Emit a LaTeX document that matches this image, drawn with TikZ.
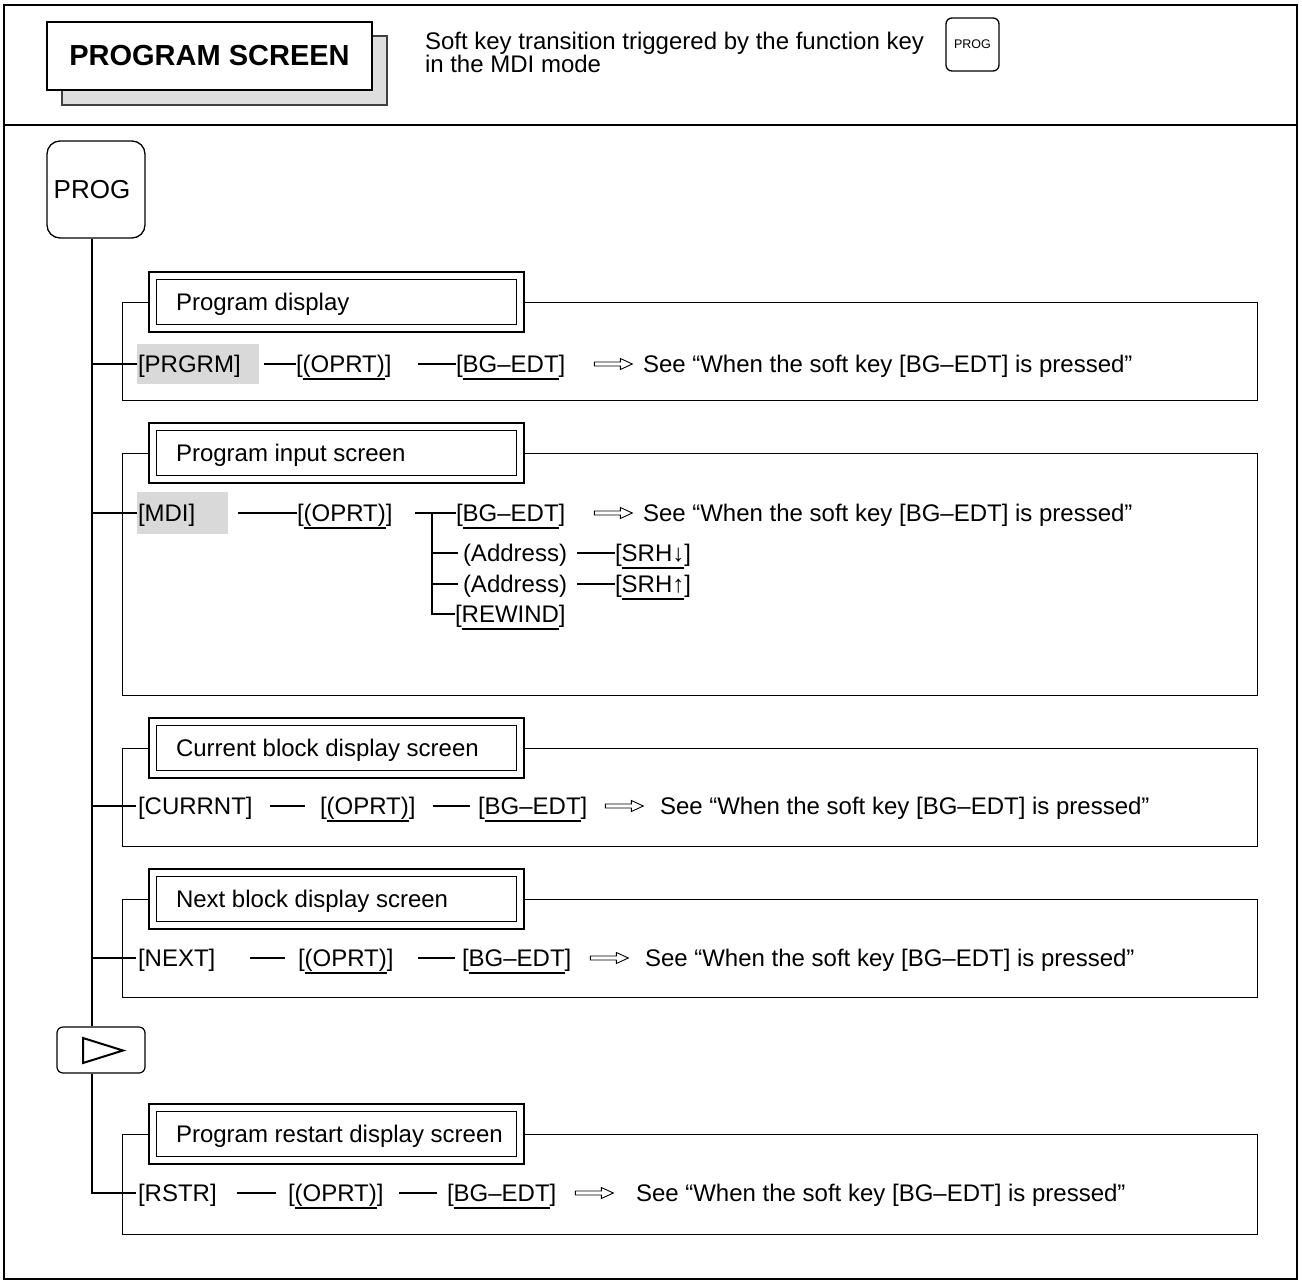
\documentclass[tikz,border=0pt]{standalone}
\usepackage{fontspec}
\setmainfont{Liberation Sans}
\usetikzlibrary{calc}
\definecolor{hlgray}{RGB}{217,217,217}
\definecolor{shadowgray}{RGB}{222,222,222}
\newcommand\kul[1]{\setbox0\hbox{#1}\rlap{\vrule width\wd0 height -5.5pt depth 7.5pt}\box0}
\begin{document}
\begin{tikzpicture}[x=1pt,y=-1pt,
  txt/.style={anchor=west, inner sep=0pt, outer sep=0pt, text height=17.2pt, text depth=0pt, font=\fontsize{24}{28}\selectfont},
  htxt/.style={anchor=base west, inner sep=0pt, outer sep=0pt, font=\fontsize{24}{28}\selectfont},
  lnk/.style={line width=1.2pt},
  panel/.style={draw, line width=1pt},
  ttl/.style={draw, line width=1.8pt, fill=white, minimum width=375pt, minimum height=60pt, anchor=west, inner sep=0pt},
  ttlin/.style={draw, line width=1pt},
  hl/.style={fill=hlgray, inner sep=0pt, anchor=west},
  harrow/.pic={\draw[line width=0.9pt, line join=miter] (0,-2) -- (26,-2) -- (26,-5.5) -- (38,0) -- (26,5.5) -- (26,2) -- (0,2) -- cycle;},
]
\useasboundingbox (0,0) rectangle (1302,1283);
% frame and header
\draw[line width=1.8pt] (4,5) rectangle (1297,1279);
\draw[line width=1.5pt] (4,125) -- (1297,125);
\draw[line width=1.3pt, fill=shadowgray, draw=black!75] (62,36) rectangle (387,105);
\node[draw, line width=1.3pt, fill=white, minimum width=325pt, minimum height=68pt, inner sep=0pt, font=\fontsize{29}{34}\selectfont\bfseries] (title) at (209.5,56) {PROGRAM SCREEN};
\node[htxt] (h1) at (425,49) {Soft key transition triggered by the function key};
\node[htxt] (h2) at (425,72) {in the MDI mode};
\node[draw, line width=1.3pt, rounded corners=6pt, minimum width=53pt, minimum height=53pt, inner sep=0pt, font=\fontsize{12.5}{14}\selectfont] (hk) at (972.5,44.5) {PROG};

% function key and trunk
\node[draw, line width=1.3pt, rounded corners=13pt, minimum width=98pt, minimum height=97pt, inner sep=0pt] (prog) at (96,189.5) {};
\node[inner sep=0pt, font=\fontsize{26}{30}\selectfont] (proglbl) at (92,190) {PROG};
\node[draw, line width=1.2pt, rounded corners=6pt, minimum width=88pt, minimum height=46pt, inner sep=0pt] (nx) at (101,1050) {};
\draw[line width=2pt, line join=miter] (83,1038) -- (123,1050.5) -- (83,1063) -- cycle;
\coordinate (trk) at ([xshift=-4pt]prog.south);
\coordinate (trk2) at ([xshift=-9pt]nx.north);
\coordinate (trk3) at ([xshift=-9pt]nx.south);
\draw[lnk] (trk) -- (trk2);

% panels
\draw[panel] (122,302) rectangle (1257,400);
\draw[panel] (122,453) rectangle (1257,695);
\draw[panel] (122,748) rectangle (1257,846);
\draw[panel] (122,899) rectangle (1257,997);
\draw[panel] (122,1134) rectangle (1257,1234);

% titles
\node[ttl] (t1) at (148,302) {};
\node[ttl] (t2) at (148,453) {};
\node[ttl] (t3) at (148,748) {};
\node[ttl] (t4) at (148,899) {};
\node[ttl] (t5) at (148,1134) {};
\foreach \t in {t1,t2,t3,t4,t5}{
  \draw[ttlin] ([shift={(8,8)}]\t.north west) rectangle ([shift={(-8,-8)}]\t.south east);
}
\node[txt] (t1l) at (176,302) {Program display};
\node[txt] (t2l) at (176,453) {Program input screen};
\node[txt] (t3l) at (176,748) {Current block display screen};
\node[txt] (t4l) at (176,899) {Next block display screen};
\node[txt] (t5l) at (176,1134) {Program restart display screen};

% row 1
\node[hl, minimum width=122pt, minimum height=40pt] (k1bg) at (137,364) {};
\node[txt] (k1) at (138,364) {[PRGRM]};
\node[txt] (o1) at (296,364) {[\kul{(OPRT)}]};
\node[txt] (b1) at (456,364) {[\kul{BG–EDT}]};
\node[txt] (s1) at (643,364) {See “When the soft key [BG–EDT] is pressed”};
\draw[lnk] (trk |- k1bg.west) -- (k1bg.west);
\draw[lnk] ([xshift=5pt]k1bg.east) -- (o1.west);
\draw[lnk] ([xshift=26pt]o1.east) -- (b1.west);
\pic at ([xshift=29pt]b1.east) {harrow};

% row 2
\node[hl, minimum width=91pt, minimum height=42pt] (k2bg) at (137,513) {};
\node[txt] (k2) at (138,513) {[MDI]};
\node[txt] (o2) at (297,513) {[\kul{(OPRT)}]};
\node[txt] (b2) at (456,513) {[\kul{BG–EDT}]};
\node[txt] (s2) at (643,513) {See “When the soft key [BG–EDT] is pressed”};
\draw[lnk] (trk |- k2bg.west) -- (k2bg.west);
\draw[lnk] ([xshift=10pt]k2bg.east) -- (o2.west);
\draw[lnk] ([xshift=22pt]o2.east) -- (b2.west);
\pic at ([xshift=29pt]b2.east) {harrow};
\coordinate (v2) at (432,513);
\node[txt] (a1) at (463,553) {(Address)};
\node[txt] (sd) at (615,553) {[\kul{SRH↓}]};
\node[txt] (a2) at (463,584) {(Address)};
\node[txt] (su) at (615,584) {[\kul{SRH↑}]};
\node[txt] (rw) at (455,614) {[\kul{REWIND}]};
\draw[lnk] (v2) |- (rw.west);
\draw[lnk] (v2 |- a1.west) -- ([xshift=-5pt]a1.west);
\draw[lnk] (v2 |- a2.west) -- ([xshift=-5pt]a2.west);
\draw[lnk] ([xshift=10pt]a1.east) -- (sd.west);
\draw[lnk] ([xshift=10pt]a2.east) -- (su.west);

% row 3
\node[txt] (k3) at (138,806) {[CURRNT]};
\node[txt] (o3) at (320,806) {[\kul{(OPRT)}]};
\node[txt] (b3) at (478,806) {[\kul{BG–EDT}]};
\node[txt] (s3) at (660,806) {See “When the soft key [BG–EDT] is pressed”};
\draw[lnk] (trk |- k3.west) -- ([xshift=-2pt]k3.west);
\draw[lnk] ([xshift=17pt]k3.east) -- ([xshift=-15pt]o3.west);
\draw[lnk] ([xshift=17pt]o3.east) -- ([xshift=-8pt]b3.west);
\pic at ([xshift=18pt]b3.east) {harrow};

% row 4
\node[txt] (k4) at (138,958) {[NEXT]};
\node[txt] (o4) at (298,958) {[\kul{(OPRT)}]};
\node[txt] (b4) at (462,958) {[\kul{BG–EDT}]};
\node[txt] (s4) at (645,958) {See “When the soft key [BG–EDT] is pressed”};
\draw[lnk] (trk |- k4.west) -- ([xshift=-2pt]k4.west);
\draw[lnk] ([xshift=35pt]k4.east) -- ([xshift=-13pt]o4.west);
\draw[lnk] ([xshift=24pt]o4.east) -- ([xshift=-7pt]b4.west);
\pic at ([xshift=19pt]b4.east) {harrow};

% row 5
\node[txt] (k5) at (138,1193) {[RSTR]};
\node[txt] (o5) at (288,1193) {[\kul{(OPRT)}]};
\node[txt] (b5) at (447,1193) {[\kul{BG–EDT}]};
\node[txt] (s5) at (636,1193) {See “When the soft key [BG–EDT] is pressed”};
\draw[lnk] (trk3) |- ([xshift=-2pt]k5.west);
\draw[lnk] ([xshift=20pt]k5.east) -- ([xshift=-12pt]o5.west);
\draw[lnk] ([xshift=15pt]o5.east) -- ([xshift=-10pt]b5.west);
\pic at ([xshift=19pt]b5.east) {harrow};
\end{tikzpicture}
\end{document}
